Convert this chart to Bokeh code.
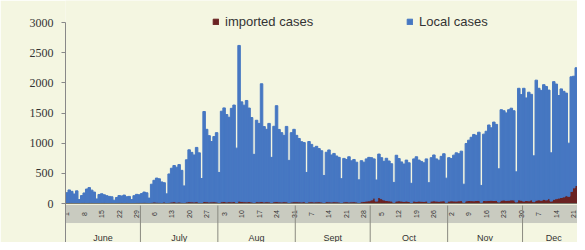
import numpy as np
import pandas as pd
from bokeh.plotting import figure
from bokeh.models import ColumnDataSource, Range1d, FixedTicker, Legend, LegendItem
from bokeh.core.properties import value
from bokeh.embed import file_html
from bokeh.resources import INLINE

start_date = "2020-06-01"

local_jun = [170, 210, 190, 150, 200, 60, 120, 160, 230, 250, 210, 180, 70, 140, 150,
             130, 120, 110, 100, 50, 90, 120, 110, 130, 100, 110, 60, 120, 140, 130]
local_jul = [150, 170, 160, 80, 300, 360, 400, 390, 340, 320, 150, 470, 560, 600, 580,
             620, 530, 280, 700, 860, 820, 780, 900, 820, 400, 1490, 1200, 1100, 1000, 1080, 1150]
local_aug = [500, 1500, 1550, 1450, 1400, 1550, 1600, 900, 2580, 1650, 1600, 1680, 1550, 1400, 800,
             1350, 1300, 1950, 1250, 1200, 1300, 750, 1250, 1590, 1200, 1150, 1100, 1250, 700, 1150, 1200]
local_sep = [1100, 1050, 1000, 980, 500, 1000, 950, 900, 920, 880, 850, 450, 820, 860, 780,
             800, 760, 740, 400, 720, 700, 750, 680, 700, 660, 380, 680, 650, 700, 720]
local_oct = [700, 650, 350, 720, 680, 640, 700, 660, 620, 330, 760, 700, 650, 620, 680,
             640, 320, 700, 740, 680, 660, 640, 700, 330, 720, 760, 700, 680, 740, 780, 400]
local_nov = [720, 700, 760, 800, 780, 820, 300, 950, 1000, 1050, 1100, 1080, 1130, 280, 1100,
             1150, 1250, 1200, 1300, 1260, 550, 1500, 1480, 1450, 1500, 1520, 1480, 500, 1850, 1750]
local_dec = [1870, 1700, 1800, 1750, 760, 1990, 1850, 1820, 1900, 1880, 1800, 800, 1950, 1900, 1700,
             1800, 1750, 1700, 880, 1900, 1850, 1950, 2000, 2090, 2000]

imp_jun = [10, 15, 12, 8, 10, 5, 12, 15, 10, 14, 12, 10, 6, 10, 12,
           15, 10, 8, 12, 5, 10, 12, 15, 10, 12, 8, 5, 10, 12, 15]
imp_jul = [15, 20, 18, 10, 20, 25, 22, 20, 18, 25, 10, 20, 25, 30, 22,
           25, 20, 12, 25, 30, 28, 25, 30, 20, 15, 35, 30, 25, 28, 30, 25]
imp_aug = [15, 30, 35, 25, 30, 28, 32, 18, 40, 35, 30, 28, 32, 25, 15,
           30, 28, 35, 25, 30, 28, 15, 30, 32, 28, 25, 30, 28, 15, 25, 30]
imp_sep = [30, 28, 25, 30, 15, 28, 30, 25, 28, 30, 25, 15, 30, 28, 25,
           30, 28, 25, 12, 28, 30, 25, 28, 30, 25, 12, 30, 35, 40, 45]
imp_oct = [60, 90, 40, 100, 80, 60, 50, 45, 40, 20, 40, 45, 40, 35, 40,
           35, 15, 40, 35, 40, 38, 35, 40, 15, 40, 45, 40, 38, 42, 45, 20]
imp_nov = [40, 45, 42, 40, 45, 48, 20, 45, 50, 48, 45, 50, 52, 20, 50,
           48, 52, 55, 50, 52, 25, 55, 58, 52, 55, 60, 58, 25, 60, 55]
imp_dec = [40, 50, 45, 60, 30, 55, 60, 55, 70, 60, 80, 40, 70, 80, 90,
           100, 110, 130, 120, 200, 260, 300, 280, 240, 200]

y_ticks = [0, 500, 1000, 1500, 2000, 2500, 3000]
month_names = {6: "June", 7: "July", 8: "Aug", 9: "Sept", 10: "Oct", 11: "Nov", 12: "Dec"}
series_labels = ["imported cases", "Local cases"]

local_cases = local_jun + local_jul + local_aug + local_sep + local_oct + local_nov + local_dec
imported_cases = imp_jun + imp_jul + imp_aug + imp_sep + imp_oct + imp_nov + imp_dec

n = len(local_cases)
dates = pd.date_range(start_date, periods=n, freq="D")
idx = np.arange(n)

# colours / layout
BG = "#f4f6e1"
BLUE = "#4677c2"
RED = "#6a2222"
BAND = "#c9cbc0"
TXT = "#333333"

band_top, band_bot = -33, -315
month_y = -565
y_bottom, y_top = -646, 3365

src = ColumnDataSource(dict(x=idx + 0.5, imported=imported_cases, local=local_cases))

p = figure(width=577, height=242, output_backend="svg", toolbar_location=None,
           x_range=Range1d(0, 205.0), y_range=Range1d(y_bottom, y_top),
           x_axis_location=None, min_border_left=65, min_border_right=0,
           min_border_top=0, min_border_bottom=0)
p.background_fill_color = BG
p.border_fill_color = BG
p.outline_line_color = None
p.xgrid.visible = False
p.ygrid.visible = False

renderers = p.vbar_stack(["imported", "local"], x="x", width=1.0, source=src,
                         color=[RED, BLUE])

# date band
p.quad(left=[0], right=[n], bottom=[band_bot], top=[band_top], color=BAND)
p.segment(x0=[0], x1=[n], y0=[0], y1=[0], line_color="#7a7a70", line_width=1)

lab_idx = idx[idx % 7 == 0]
p.text(x=lab_idx + 0.5, y=[(band_top + band_bot) / 2] * len(lab_idx),
       text=[str(dates[i].day) for i in lab_idx], angle=np.pi / 2,
       text_font=value("Liberation Sans"), text_font_size="7px",
       text_align="center", text_baseline="middle", text_color=TXT)

# month separators and labels
months = dates.month.values
starts = [i for i in idx if i == 0 or months[i] != months[i - 1]]
p.segment(x0=starts, x1=starts, y0=[band_top] * len(starts), y1=[y_bottom] * len(starts),
          line_color="#8a8a80", line_width=1)
centers, names = [], []
for m in pd.unique(months):
    sel = idx[months == m]
    centers.append((sel[0] + sel[-1] + 1) / 2)
    names.append(month_names[m])
p.text(x=centers, y=[month_y] * len(centers), text=names,
       text_font=value("Liberation Sans"), text_font_size="9px",
       text_align="center", text_baseline="middle", text_color=TXT)

# y axis
ax = p.yaxis[0]
ax.ticker = FixedTicker(ticks=y_ticks)
ax.bounds = (y_bottom, 3000)
ax.axis_line_color = "#888888"
ax.major_tick_line_color = "#888888"
ax.major_tick_out = 4
ax.major_tick_in = 0
ax.minor_tick_line_color = None
ax.major_label_standoff = 8
ax.major_label_text_font = "Liberation Serif"
ax.major_label_text_font_size = "12px"
ax.major_label_text_color = TXT

# legends
for r, lab, xloc in zip(renderers, series_labels, [147, 341]):
    lg = Legend(items=[LegendItem(label=lab, renderers=[r])], location=(xloc, 213),
                orientation="horizontal", background_fill_alpha=0, border_line_alpha=0,
                padding=0, margin=0, spacing=0, glyph_width=7, glyph_height=7,
                label_height=14, label_standoff=6, label_text_font="Liberation Sans",
                label_text_font_size="13px", label_text_color=TXT)
    p.add_layout(lg, "center")

open("out.html", "w").write(file_html(p, INLINE))
